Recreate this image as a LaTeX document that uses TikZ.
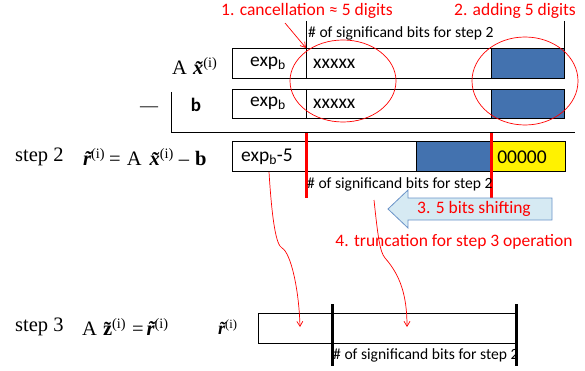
\documentclass[tikz,border=0pt]{standalone}
\usepackage{fontspec}
\setmainfont{Liberation Serif}
\newfontfamily\calfont{Carlito}
\usetikzlibrary{arrows.meta}
\definecolor{bitblue}{HTML}{4372AF}
\definecolor{arrfill}{HTML}{D6EAF3}
\definecolor{arrline}{HTML}{6A93C8}
\begin{document}
\begin{tikzpicture}[x=1pt,y=-1pt,
  redlbl/.style={text=red, font=\calfont\fontsize{17.5}{19}\selectfont, inner sep=0},
  sig/.style={font=\calfont\fontsize{15.6}{17}\selectfont, anchor=west, inner sep=0},
  boxtxt/.style={font=\calfont\fontsize{19.5}{21}\selectfont, inner sep=0},
  eqtxt/.style={font=\fontsize{20.5}{23}\selectfont, anchor=west, inner sep=0},
  cell/.style={draw=black, line width=0.8pt},
  redthick/.style={draw=red, line width=3pt},
  blackthick/.style={draw=black, line width=3pt},
  thinred/.style={draw=red, line width=0.7pt},
  curvearrow/.style={draw=red, line width=0.7pt, -{Straight Barb[length=5pt,width=6pt]}}
]
\useasboundingbox (0,0) rectangle (585,371);

% ---- top labels
\node[redlbl] (lab1) at (307,11) {1. cancellation ≈ 5 digits};
\node[redlbl] (lab2) at (515,11) {2. adding 5 digits};
\draw[black, line width=0.8pt] (306,21) -- (306,48);
\draw[black, line width=0.8pt] (564,21) -- (564,48);
\node[sig] (sig1) at (308,33) {\# of significand bits for step 2};

% ---- row A x
\draw[cell, fill=bitblue] (491,48) rectangle (564,78);
\draw[cell] (232,48) rectangle (564,78);
\draw[cell] (306,48) -- (306,78);
\node[eqtxt] (ax) at (172,66) {A\hspace{6pt}{\bfseries\itshape\~x}\textsuperscript{(i)}};
\node[boxtxt] (e1) at (268,63) {exp\textsubscript{b}};
\node[boxtxt, anchor=west] (x1) at (313,64) {xxxxx};

% ---- row b
\draw[cell, fill=bitblue] (491,89) rectangle (564,118);
\draw[cell] (232,89) rectangle (564,118);
\draw[cell] (306,89) -- (306,118);
\node[font=\calfont\bfseries\fontsize{19}{21}\selectfont, inner sep=0] (bb) at (196,105) {b};
\node[boxtxt] (e2) at (268,103) {exp\textsubscript{b}};
\node[boxtxt, anchor=west] (x2) at (313,104) {xxxxx};
\node[font=\fontsize{18}{20}\selectfont, inner sep=0] (minus) at (149,109) {—};
\draw[black, line width=0.8pt] (171,92) -- (171,132) -- (575,132);

% ---- ellipses and arrow
\draw[thinred] (343,81) ellipse [x radius=53, y radius=41];
\draw[thinred] (525,81) ellipse [x radius=53, y radius=44];
\coordinate (cancelpt) at (306,48);
\draw[red, line width=0.7pt, -{Straight Barb[length=5pt,width=6pt]}] (285,23) -- (cancelpt);

% ---- step 2
\node[eqtxt] (s2) at (15,157) {step 2};
\node[eqtxt] (eq2) at (83,157) {{\bfseries\itshape\~r}\textsuperscript{(i)}\hspace{4pt}=\hspace{6pt}A\hspace{8pt}{\bfseries\itshape\~x}\textsuperscript{(i)}\hspace{5pt}–\hspace{6pt}{\bfseries b}};
\draw[cell, fill=bitblue] (416,141) rectangle (491,171);
\draw[cell, fill=yellow] (491,141) rectangle (565,171);
\draw[cell] (232,141) rectangle (565,171);
\node[boxtxt] (e5) at (267,157) {exp\textsubscript{b}-5};
\node[boxtxt] (zeros) at (522,157) {00000};
\draw[redthick] (306,133) -- (306,198);
\draw[redthick] (491,133) -- (491,198);
\node[sig] (sig2) at (307,184) {\# of significand bits for step 2};

% ---- shifting arrow
\draw[draw=arrline, fill=arrfill, line width=0.8pt]
  (552,198) -- (408,198) -- (408,190) -- (388,209) -- (408,228) -- (408,220) -- (552,220) -- cycle;
\node[redlbl] (shift) at (474,209) {3. 5 bits shifting};
\node[redlbl] (trunc) at (454,242) {4. truncation for step 3 operation};

% ---- step 3
\node[eqtxt] (s3) at (15,327) {step 3};
\node[eqtxt] (eq3) at (82,327) {A\hspace{6pt}{\bfseries\~z}\textsuperscript{(i)}\hspace{6pt}=\hspace{3pt}{\bfseries\itshape\~r}\textsuperscript{(i)}};
\node[font=\fontsize{18}{20}\selectfont, anchor=west, inner sep=0] (r3) at (218,327) {{\bfseries\itshape\~r}\textsuperscript{(i)}};
\draw[cell] (258,313) rectangle (516,343);
\draw[blackthick] (332,304) -- (332,366);
\draw[blackthick] (516,304) -- (516,366);
\node[sig] (sig3) at (333,355) {\# of significand bits for step 2};

% ---- curved red arrows
\coordinate (c1s) at (269,172);
\coordinate (c1e) at (300,327);
\coordinate (c2s) at (374,200);
\coordinate (c2e) at (407,327);
\draw[curvearrow] (c1s) .. controls (272,220) and (276,245) .. (282,248) .. controls (291,253) and (299,290) .. (c1e);
\draw[curvearrow] (c2s) .. controls (378,238) and (380,252) .. (385,258) .. controls (400,275) and (407,295) .. (c2e);
\end{tikzpicture}
\end{document}
